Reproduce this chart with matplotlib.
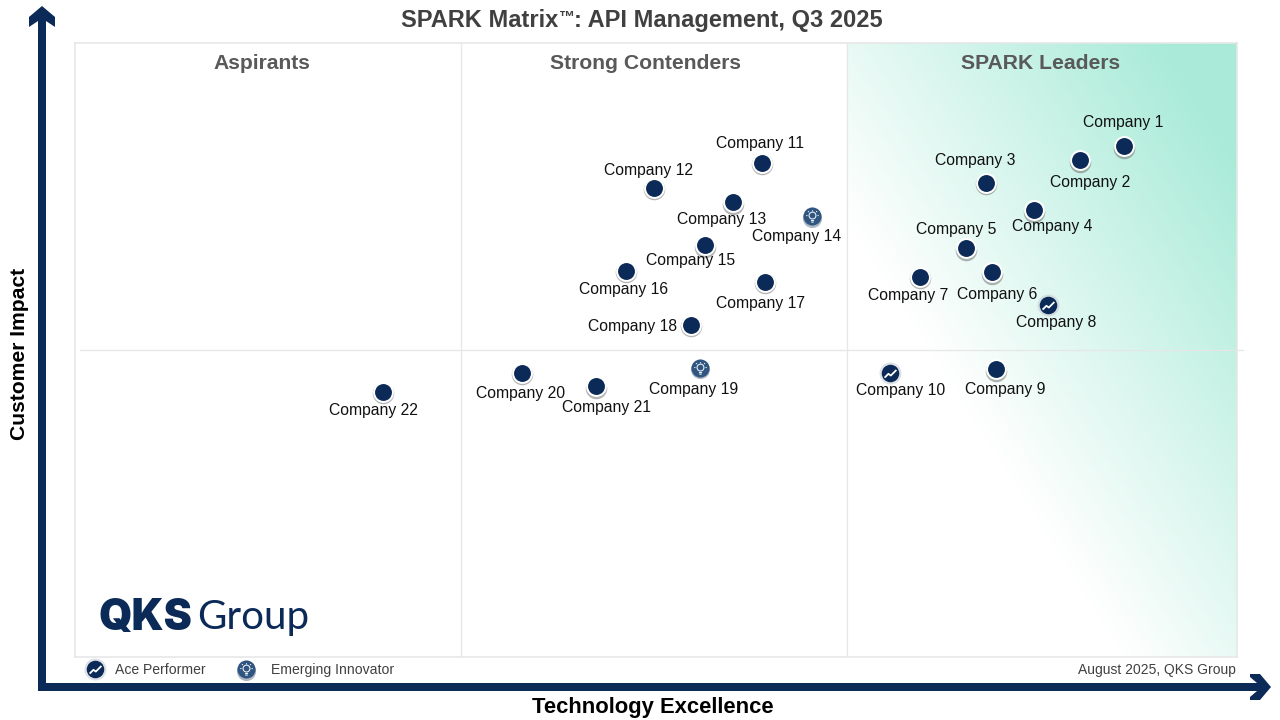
import numpy as np
import matplotlib
matplotlib.use("Agg")
import matplotlib.pyplot as plt
from matplotlib.colors import LinearSegmentedColormap
from matplotlib.patches import Polygon
from matplotlib.path import Path
from matplotlib.transforms import offset_copy

plt.rcParams['font.family'] = ['Liberation Sans', 'DejaVu Sans']

# Chart data (scores on a 0-100 scale)
companies = ["Company %d" % i for i in range(1, 23)]
tech_excellence = [90.3, 86.5, 78.4, 82.5, 76.7, 78.9, 72.7, 83.7, 79.3, 70.1, 59.1,
                   49.8, 56.6, 63.4, 54.2, 47.4, 59.4, 53.0, 53.8, 38.5, 44.8, 26.5]
customer_impact = [83.2, 80.9, 77.2, 72.8, 66.6, 62.7, 61.9, 57.3, 46.9, 46.3, 80.5,
                   76.4, 74.1, 71.8, 67.1, 62.9, 61.1, 54.1, 47.1, 46.3, 44.1, 43.2]
status = ["", "", "", "", "", "", "", "ace", "", "ace", "",
          "", "", "innovator", "", "", "", "", "innovator", "", "", ""]
quadrants = ["Aspirants", "Strong Contenders", "SPARK Leaders"]
quadrant_x = [16.1, 49.1, 83.1]

# Label placement relative to the point, in pixels (y up)
label_dx = [-1.5, 9.5, -11, 18, -10.5, 5, -12, 8, 8, 11, -2, -6, -12, -16, -15, -3, -5, -59, -7, -2, 10, -10]
label_dy = [24, -22, 23, -16, 19, -22, -18, -17, -20, -17, 20, 18, -17, -20, -15, -18, -21, -1, -21, -20, -21, -18]

NAVY = "#0B2A57"
INNOVATOR = "#2F5580"
GRID = "#E6E6E6"
dpi = 100

fig = plt.figure(figsize=(12.8, 7.2), dpi=dpi)
ax = fig.add_axes([75 / 1280, 63 / 720, 1162 / 1280, 614 / 720])
ax.set_xticks([])
ax.set_yticks([])
for side in ax.spines.values():
    side.set_color(GRID)
    side.set_linewidth(1.1)

split_left, split_right = 33.2, 66.44

# Gradient in the leaders quadrant, white at the lower left to mint at the upper right
u, v = np.meshgrid(np.linspace(0, 1, 400), np.linspace(0, 1, 600))
shade = np.clip((u + v - 0.71) / 1.11, 0, 1)
mint = LinearSegmentedColormap.from_list("mint", ["#FFFFFF", "#A9EBD8"])
ax.imshow(shade, extent=(split_right, 100, 0, 100), origin="lower", cmap=mint,
          vmin=0, vmax=1, aspect="auto", zorder=0)
ax.set_xlim(0, 100)
ax.set_ylim(0, 100)

# Quadrant lines
ax.plot([split_left, split_left], [0, 100], color=GRID, lw=0.9, zorder=1)
ax.plot([split_right, split_right], [0, 100], color=GRID, lw=0.9, zorder=1)
ax.plot([0.43, 100.5], [50, 50], color=GRID, lw=0.9, zorder=1, clip_on=False)

for x, name in zip(quadrant_x, quadrants):
    ax.text(x, 96.6, name, ha="center", va="center", fontsize=15.25,
            fontweight="bold", color="#595959")

# Marker glyphs
zigzag = Path([(-1, -0.7), (-0.35, -0.05), (0.05, -0.35), (1, 0.6)])
bulb = Path.make_compound_path(
    Path.circle((0, 0.15), 0.55),
    Path([(-0.25, -0.65), (0.25, -0.65)]),
    Path([(-0.18, -0.9), (0.18, -0.9)]),
    Path([(-1, 0.15), (-0.8, 0.15)]),
    Path([(1, 0.15), (0.8, 0.15)]),
    Path([(0, 1), (0, 0.85)]),
    Path([(-0.72, 0.85), (-0.58, 0.72)]),
    Path([(0.72, 0.85), (0.58, 0.72)]),
)


def draw_points(axis, xs, ys, kinds, trans):
    shadow = offset_copy(trans, fig=fig, x=0, y=-1.5, units="dots")
    for x, y, kind in zip(xs, ys, kinds):
        if kind == "":
            axis.scatter(x, y, s=240, color="#6A6A6A", alpha=0.5, lw=0, transform=shadow, zorder=3)
            axis.scatter(x, y, s=225, color="white", lw=0, transform=trans, zorder=4)
            axis.scatter(x, y, s=148, color=NAVY, lw=0, transform=trans, zorder=5)
        elif kind == "ace":
            axis.scatter(x, y, s=250, color="#C8CDD6", alpha=0.6, lw=0, transform=trans, zorder=3)
            axis.scatter(x, y, s=159, color=NAVY, lw=0, transform=trans, zorder=5)
            axis.plot(x, y, marker=zigzag, ms=8.5, mfc="none", mec="white", mew=1.3,
                      transform=trans, zorder=6)
        else:
            axis.scatter(x, y, s=190, color="#6F7F95", alpha=0.55, lw=0, transform=shadow, zorder=3)
            axis.scatter(x, y, s=170, color=INNOVATOR, lw=0, transform=trans, zorder=5)
            axis.plot(x, y, marker=bulb, ms=9, mfc="none", mec="#E8EEF4", mew=0.8,
                      transform=trans, zorder=6)


draw_points(ax, tech_excellence, customer_impact, status, ax.transData)

for name, x, y, dx, dy in zip(companies, tech_excellence, customer_impact, label_dx, label_dy):
    ax.annotate(name, (x, y), xytext=((dx + 0.5) * 72 / dpi, (dy - 0.5) * 72 / dpi), textcoords="offset points",
                ha="center", va="center", fontsize=11.35, color="#111111", zorder=7)

# Everything outside the plot area goes on a pixel overlay
over = fig.add_axes([0, 0, 1, 1], facecolor="none")
over.set_xlim(0, 1280)
over.set_ylim(720, 0)
over.axis("off")

over.add_patch(Polygon([(38, 691), (38, 21), (29, 27), (29, 17), (42, 6), (55, 17), (55, 27),
                        (46, 21), (46, 683), (1257, 683), (1250, 677), (1250, 674), (1260, 674), (1271, 687),
                        (1260, 700), (1250, 700), (1250, 697), (1257, 691)],
                       closed=True, fc=NAVY, ec="none"))

# Title in three pieces so the trademark sign can sit small and raised
renderer = fig.canvas.get_renderer()
title_style = dict(ha="left", va="baseline", fontweight="bold", color="#404040")
title_a = over.text(401, 27, "SPARK Matrix", fontsize=17.05, **title_style)
x_next = title_a.get_window_extent(renderer).x1
title_b = over.text(x_next, 21.5, "\u2122", fontsize=11.5, **title_style)
x_next = title_b.get_window_extent(renderer).x1
over.text(x_next, 27, ": API Management, Q3 2025", fontsize=17.05, **title_style)

over.text(652.5, 707, "Technology Excellence", ha="center", va="center",
          fontsize=15.8, fontweight="bold", color="black")
over.text(20, 354, "Customer Impact", ha="center", va="center", rotation=90,
          fontsize=15.2, fontweight="bold", color="black")

# Logo
over.text(99, 618, "QKS", ha="left", va="center", fontsize=30.5, fontweight="black",
          family="Inter", color=NAVY)
over.text(197, 618, "Group", ha="left", va="center", fontsize=29, family="Lato", color=NAVY)

# Legend and source
draw_points(over, [95, 246], [669, 669], ["ace", "innovator"], over.transData)
over.text(115, 670, "Ace Performer", ha="left", va="center", fontsize=10.1, color="#404040")
over.text(271, 670, "Emerging Innovator", ha="left", va="center", fontsize=10.1, color="#404040")
over.text(1236, 670, "August 2025, QKS Group", ha="right", va="center", fontsize=10, color="#404040")

plt.savefig("out.png", dpi=dpi)
